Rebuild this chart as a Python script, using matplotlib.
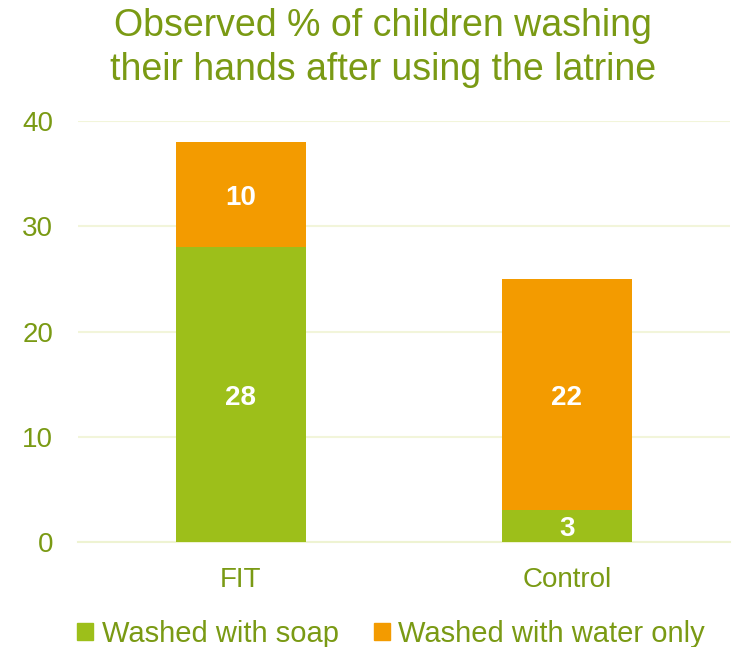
import numpy as np
import matplotlib
matplotlib.use('Agg')
import matplotlib.pyplot as plt
import matplotlib.patches as mpatches

plt.rcParams['font.family'] = ['Liberation Sans', 'DejaVu Sans']

categories = ['FIT', 'Control']
soap = [28, 3]
water_only = [10, 22]
series_names = ['Washed with soap', 'Washed with water only']
y_ticks = [0, 10, 20, 30, 40]

text_col = '#7a9a14'
soap_col = '#9dbf1a'
water_col = '#f39b00'
grid_col = '#f2f5da'

fig = plt.figure(figsize=(7.34, 6.47), dpi=100)
ax = fig.add_axes([78 / 734, (647 - 542) / 647, 652 / 734, (542 - 121) / 647])

x = np.arange(len(categories))
ax.bar(x, soap, width=0.4, color=soap_col, zorder=3)
ax.bar(x, water_only, width=0.4, bottom=soap, color=water_col, zorder=3)

# value labels
for i in range(len(categories)):
    ax.text(x[i], soap[i] / 2, str(soap[i]), ha='center', va='center_baseline',
            color='white', fontsize=20, fontweight='bold', zorder=4)
    ax.text(x[i], soap[i] + water_only[i] / 2, str(water_only[i]), ha='center',
            va='center_baseline', color='white', fontsize=20, fontweight='bold', zorder=4)

ax.set_xlim(-0.5, 1.5)
ax.set_ylim(0, 40)
ax.set_yticks(y_ticks)
ax.set_xticks(x)
ax.set_xticklabels(categories)
ax.tick_params(axis='y', length=0, labelsize=20, colors=text_col, pad=18)
ax.tick_params(axis='x', length=0, labelsize=20, colors=text_col, pad=18)
ax.grid(axis='y', color=grid_col, linewidth=1.5, zorder=0)
for s in ['top', 'right', 'left']:
    ax.spines[s].set_visible(False)
ax.spines['bottom'].set_color('#eef3d2')
ax.spines['bottom'].set_linewidth(1.5)

fig.text(383 / 734, 1 - 48 / 647,
         'Observed % of children washing\ntheir hands after using the latrine',
         ha='center', va='center', fontsize=27, color=text_col, linespacing=1.32)

handles = [mpatches.Patch(color=soap_col, label=series_names[0]),
           mpatches.Patch(color=water_col, label=series_names[1])]
leg = fig.legend(handles=handles, loc='center', ncol=2, frameon=False,
                 bbox_to_anchor=(391 / 734, 1 - 634 / 647), fontsize=21,
                 handlelength=0.55, handleheight=0.55, handletextpad=0.3,
                 columnspacing=1.2)
for t in leg.get_texts():
    t.set_color(text_col)

plt.savefig('out.png', dpi=100)
